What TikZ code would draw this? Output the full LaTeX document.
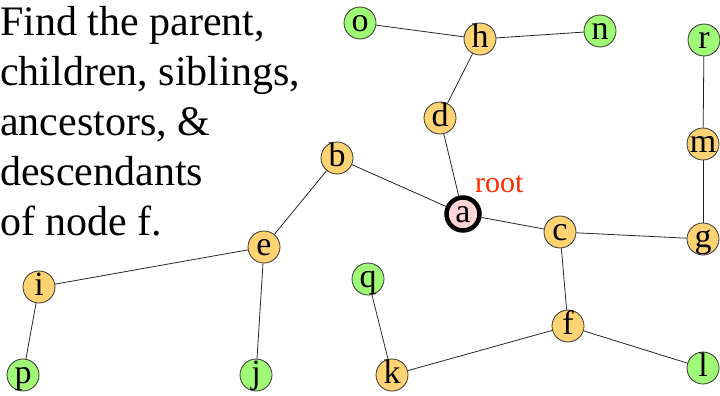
\documentclass[tikz,border=0pt]{standalone}
\usepackage{fontspec}
\setmainfont{Liberation Serif}
\definecolor{orangefill}{HTML}{FFD374}
\definecolor{greenfill}{HTML}{A0FA78}
\definecolor{pinkfill}{HTML}{FFD6D6}
\definecolor{rootred}{HTML}{FF2A00}
\begin{document}
\begin{tikzpicture}[x=1pt,y=-1pt,
  vtx/.style={circle,draw=black!80,line width=0.8pt,minimum size=32pt,inner sep=0pt,
    font=\fontsize{34}{34}\selectfont,text height=17pt,text depth=-17pt},
  inner/.style={vtx,fill=orangefill},
  leaf/.style={vtx,fill=greenfill},
  rootv/.style={vtx,fill=pinkfill,draw=black,line width=4.5pt,minimum size=33pt},
  edge/.style={draw=black!85,line width=0.8pt}]
\useasboundingbox (0,0) rectangle (720,396);
\node[anchor=north west,inner sep=0pt,align=left,
  font=\fontsize{42}{50}\selectfont] (q) at (0,6)
  {Find the parent,\\children, siblings,\\ancestors, \&\\descendants\\of node f.};
% nodes
\node[leaf]  (o) at (360,23) {o};
\node[inner] (h) at (480,39) {h};
\node[leaf]  (n) at (600,31) {n};
\node[leaf]  (r) at (704,40) {r};
\node[inner] (d) at (440,118) {d};
\node[inner] (m) at (703,144) {m};
\node[inner] (b) at (337,158) {b};
\node[rootv] (a) at (463,214) {a};
\node[inner] (c) at (560,232) {c};
\node[inner] (g) at (703,239) {g};
\node[inner] (e) at (264,247) {e};
\node[inner] (i) at (39,287) {i};
\node[leaf]  (qq) at (368,279) {q};
\node[inner] (f) at (568,326) {f};
\node[leaf]  (p) at (23,375) {p};
\node[leaf]  (j) at (256,375) {j};
\node[inner] (k) at (392,375) {k};
\node[leaf]  (l) at (703,368) {l};
\node[anchor=base west,inner sep=0pt,text=rootred,font=\fontsize{30}{30}\selectfont] (rl) at (475,192) {root};
% edges
\draw[edge] (a) -- (b);
\draw[edge] (a) -- (d);
\draw[edge] (a) -- (c);
\draw[edge] (d) -- (h);
\draw[edge] (h) -- (o);
\draw[edge] (h) -- (n);
\draw[edge] (b) -- (e);
\draw[edge] (e) -- (i);
\draw[edge] (e) -- (j);
\draw[edge] (i) -- (p);
\draw[edge] (c) -- (g);
\draw[edge] (c) -- (f);
\draw[edge] (g) -- (m);
\draw[edge] (m) -- (r);
\draw[edge] (f) -- (k);
\draw[edge] (f) -- (l);
\draw[edge] (k) -- (qq);
\end{tikzpicture}
\end{document}
